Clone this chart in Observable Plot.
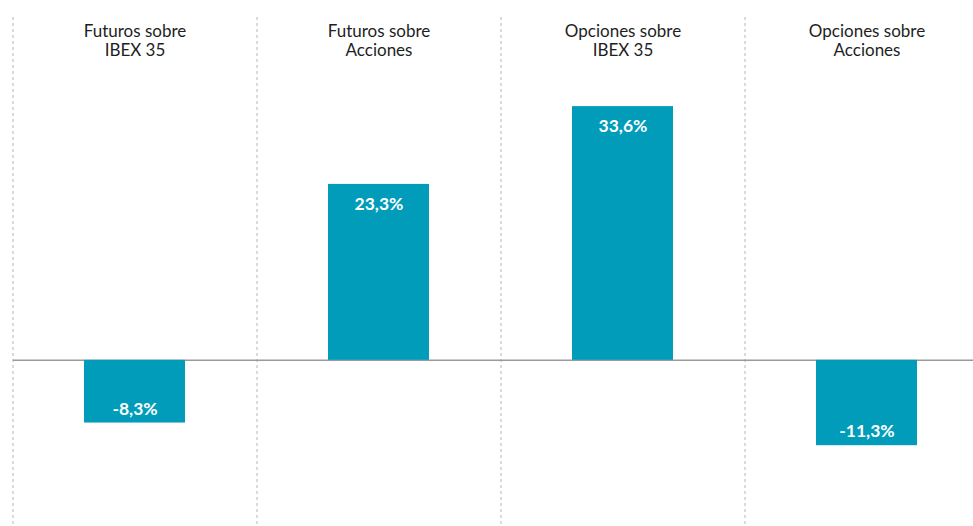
<!DOCTYPE html>
<html>
<head>
<meta charset="utf-8">
<script src="https://cdn.jsdelivr.net/npm/d3@7"></script>
<script src="https://cdn.jsdelivr.net/npm/@observablehq/plot@0.6"></script>
<style>
  html, body { margin: 0; padding: 0; background: #fff; }
  #chart { width: 973px; height: 526px; overflow: hidden; }
</style>
</head>
<body>
<div id="chart"></div>
<script>
const categories = ["Futuros sobre\nIBEX 35", "Futuros sobre\nAcciones", "Opciones sobre\nIBEX 35", "Opciones sobre\nAcciones"];
const values = [-8.3, 23.3, 33.6, -11.3];
const valueLabels = ["-8,3%", "23,3%", "33,6%", "-11,3%"];

const data = categories.map((c, i) => ({category: c, value: values[i], label: valueLabels[i]}));
const pos = data.filter(d => d.value >= 0);
const neg = data.filter(d => d.value < 0);

const W = 973, H = 526;
const xRange = [13, 989];
const step = (xRange[1] - xRange[0]) / categories.length;

const chart = Plot.plot({
  width: W,
  height: H,
  marginTop: 17,
  marginBottom: 0,
  marginLeft: 13,
  marginRight: 0,
  style: {fontFamily: "Lato, sans-serif", background: "#fff", overflow: "visible"},
  x: {domain: categories, range: xRange, paddingInner: 0.586, paddingOuter: 0.293, axis: null},
  y: {domain: [-22, 45.4], axis: null},
  marks: [
    Plot.ruleX(categories, {x: d => d, dx: -step / 2, stroke: "#b5b5b5", strokeWidth: 1, strokeDasharray: "3,3"}),
    Plot.ruleX(categories.slice(-1), {x: d => d, dx: step / 2, stroke: "#b5b5b5", strokeWidth: 1, strokeDasharray: "3,3"}),
    Plot.ruleY([0], {stroke: "#9a9a9a", strokeWidth: 1.5}),
    Plot.barY(data, {x: "category", y: "value", fill: "#009cba"}),
    Plot.text(pos, {
      x: "category", y: "value", text: "label", dy: 20,
      fill: "#fff", fontWeight: "bold", fontSize: 17.5, fontFamily: "Lato, sans-serif"
    }),
    Plot.text(neg, {
      x: "category", y: "value", text: "label", dy: -14,
      fill: "#fff", fontWeight: "bold", fontSize: 17.5, fontFamily: "Lato, sans-serif"
    }),
    Plot.text(categories, {
      x: d => d, frameAnchor: "top", lineAnchor: "top", dy: 6,
      text: d => d, fontSize: 17, lineHeight: 1.12, fill: "#1e1e1e",
      fontFamily: "Lato, sans-serif"
    })
  ]
});

document.getElementById("chart").appendChild(chart);
</script>
</body>
</html>
